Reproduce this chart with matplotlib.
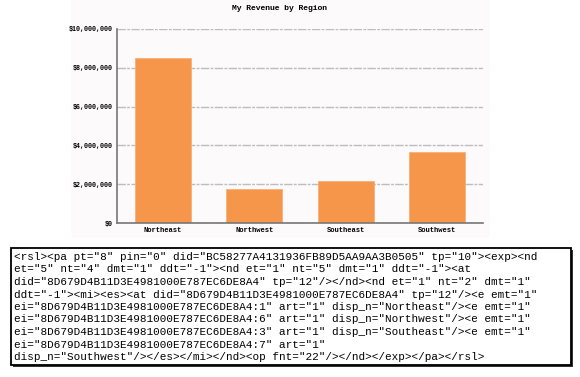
import matplotlib.pyplot as plt
from matplotlib.patches import Rectangle
from matplotlib.ticker import FuncFormatter, MultipleLocator

# chart data
regions = ["Northeast", "Northwest", "Southeast", "Southwest"]
revenue = [8500000, 1730000, 2190000, 3680000]

# request xml shown under the chart
xml_lines = [
    '<rsl><pa pt="8" pin="0" did="BC58277A4131936FB89D5AA9AA3B0505" tp="10"><exp><nd',
    'et="5" nt="4" dmt="1" ddt="-1"><nd et="1" nt="5" dmt="1" ddt="-1"><at',
    'did="8D679D4B11D3E4981000E787EC6DE8A4" tp="12"/></nd><nd et="1" nt="2" dmt="1"',
    'ddt="-1"><mi><es><at did="8D679D4B11D3E4981000E787EC6DE8A4" tp="12"/><e emt="1"',
    'ei="8D679D4B11D3E4981000E787EC6DE8A4:1" art="1" disp_n="Northeast"/><e emt="1"',
    'ei="8D679D4B11D3E4981000E787EC6DE8A4:6" art="1" disp_n="Northwest"/><e emt="1"',
    'ei="8D679D4B11D3E4981000E787EC6DE8A4:3" art="1" disp_n="Southeast"/><e emt="1"',
    'ei="8D679D4B11D3E4981000E787EC6DE8A4:7" art="1"',
    'disp_n="Southwest"/></es></mi></nd><op fnt="22"/></nd></exp></pa></rsl>',
]

W, H = 580, 377
fig = plt.figure(figsize=(W / 100, H / 100), dpi=100)
fig.patch.set_facecolor("white")

def fx(px):
    return px / W

def fy(py):
    return 1 - py / H

bg = "#fcfafb"
# chart background panel
fig.patches.append(Rectangle((fx(71), fy(238)), fx(490) - fx(71), fy(0) - fy(238),
                             transform=fig.transFigure, facecolor=bg, edgecolor="none", zorder=-5))

ax = fig.add_axes([fx(117), fy(223), fx(483) - fx(117), fy(29) - fy(223)])
ax.set_zorder(5)
ax.set_facecolor(bg)
ax.bar(range(len(regions)), revenue, width=0.61, color="#f5964a", edgecolor="#f8b07a",
       linewidth=0.6, zorder=3)
ax.set_xlim(-0.5, len(regions) - 0.5)
ax.set_ylim(0, 10000000)
ax.yaxis.set_major_locator(MultipleLocator(2000000))
ax.yaxis.set_major_formatter(FuncFormatter(lambda v, p: "${:,.0f}".format(v)))
ax.set_xticks(range(len(regions)))
ax.set_xticklabels(regions)
ax.grid(axis="y", color="#bdbdbd", linewidth=1, linestyle=(0, (6, 1, 2, 1)), zorder=1)
for s in ["top", "right"]:
    ax.spines[s].set_visible(False)
for s in ["left", "bottom"]:
    ax.spines[s].set_color("#777777")
    ax.spines[s].set_linewidth(1.2)
    ax.spines[s].set_zorder(4)
ax.tick_params(length=0, pad=3)
for lab in ax.get_yticklabels():
    lab.set_family("Liberation Mono")
    lab.set_weight("bold")
    lab.set_fontsize(4.8)
for lab in ax.get_xticklabels():
    lab.set_family("Liberation Mono")
    lab.set_weight("bold")
    lab.set_fontsize(5.1)

fig.text(fx(280), fy(8), "My Revenue by Region", ha="center", va="center",
         family="Liberation Mono", weight="bold", fontsize=5.8)

# text box with shadow
fig.patches.append(Rectangle((fx(13), fy(367)), fx(571) - fx(11), fy(248) - fy(365),
                             transform=fig.transFigure, facecolor="#333333", edgecolor="none", zorder=1))
fig.patches.append(Rectangle((fx(11), fy(365)), fx(571) - fx(11), fy(248) - fy(365),
                             transform=fig.transFigure, facecolor="white", edgecolor="black",
                             linewidth=1.3, zorder=2))

y0, step = 257, 12.5
for i, line in enumerate(xml_lines):
    fig.text(fx(14), fy(y0 + i * step), line, ha="left", va="center",
             family="Liberation Mono", fontsize=7.9, color="black", zorder=3)

fig.savefig("out.png", dpi=100)
